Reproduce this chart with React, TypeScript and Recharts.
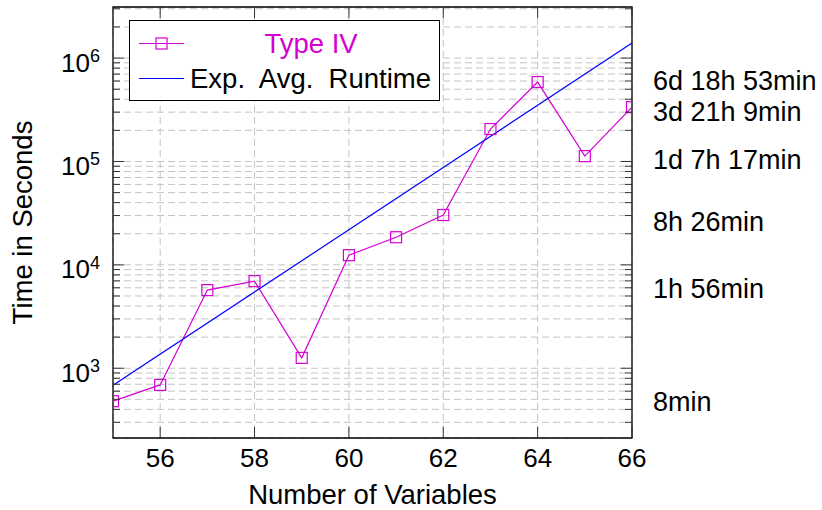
import React from 'react'
import { LineChart, Line, XAxis, YAxis, CartesianGrid, Legend, ReferenceArea } from 'recharts'

// number of variables on the x axis
const variables = [55, 56, 57, 58, 59, 60, 61, 62, 63, 64, 65, 66]
// measured runtime (seconds) for Type IV instances
const typeIvSeconds = [480, 690, 5700, 6960, 1260, 12400, 18500, 30360, 206000, 586380, 112620, 335340]
// expected average runtime, straight line in log space
const expAvgVariables = [55, 66]
const expAvgSeconds = [684, 1400000]

const xTicks = [56, 58, 60, 62, 64, 66]
const decades = [100, 1000, 10000, 100000, 1000000]
const minorSteps = [1, 2, 3, 4, 5, 6, 7, 8, 9]

// human readable runtimes on the right side
const rightTickValues = [479, 5930, 26400, 105000, 307000, 612000]
const rightTickLabels = ['8min', '1h 56min', '8h 26min', '1d 7h 17min', '3d 21h 9min', '6d 18h 53min']

const Y_MIN = 211.5
const Y_MAX = 3120000
const yTicks = decades
  .flatMap((d) => minorSteps.map((m) => d * m))
  .filter((v) => v >= Y_MIN && v <= Y_MAX)

const typeIvData = variables.map((x, i) => ({ x, y: typeIvSeconds[i] }))
const expAvgData = expAvgVariables.map((x, i) => ({ x, y: expAvgSeconds[i] }))

const FONT = '"Liberation Sans", Arial, sans-serif'
const FS = 26 // numbers
const FS_TEXT = 27.5 // words
const MAGENTA = '#d400d4'
const BLUE = '#0000ff'
const TICK = '#333'

// plot box
const PLOT_W = 519
const PLOT_H = 431

const isDecade = (v: number) => {
  const l = Math.log10(v)
  return Math.abs(l - Math.round(l)) < 1e-9
}

const LeftTick = (props: any) => {
  const { x, y, payload } = props
  const v = payload.value
  const axisX = x + 13
  const major = isDecade(v)
  const len = major ? 11 : 7
  return (
    <g>
      <line x1={axisX} x2={axisX + len} y1={y} y2={y} stroke={TICK} strokeWidth={1} />
      <line x1={axisX + PLOT_W} x2={axisX + PLOT_W - len} y1={y} y2={y} stroke={TICK} strokeWidth={1} />
      {major && (
        <text x={x} y={y + 13.5} textAnchor="end" fill="#000" fontFamily={FONT} fontSize={FS}>
          <tspan>10</tspan>
          <tspan dy={-9.5} fontSize={18}>{Math.round(Math.log10(v))}</tspan>
        </text>
      )}
    </g>
  )
}

const RightTick = (props: any) => {
  const { x, y, payload } = props
  const idx = rightTickValues.indexOf(payload.value)
  return (
    <text x={x} y={y} dy="0.36em" textAnchor="start" fill="#000" fontFamily={FONT} fontSize={27}>
      {rightTickLabels[idx]}
    </text>
  )
}

const BottomTick = (props: any) => {
  const { x, y, payload } = props
  const axisY = y - 29
  return (
    <g>
      <line x1={x} x2={x} y1={axisY} y2={axisY - 11} stroke={TICK} strokeWidth={1} />
      <line x1={x} x2={x} y1={axisY - PLOT_H} y2={axisY - PLOT_H + 11} stroke={TICK} strokeWidth={1} />
      <text x={x} y={y} textAnchor="middle" fill="#000" fontFamily={FONT} fontSize={FS}>
        {payload.value}
      </text>
    </g>
  )
}

const SquareDot = (props: any) => {
  const { cx, cy } = props
  if (cx == null || cy == null) return null
  return <rect x={cx - 5.5} y={cy - 5.5} width={11} height={11} fill="none" stroke={MAGENTA} strokeWidth={1.2} />
}

const LegendBox = () => (
  <div
    style={{
      width: 311,
      height: 81,
      boxSizing: 'border-box',
      border: '1.3px solid #000',
      background: '#fff',
      fontFamily: FONT,
      fontSize: FS_TEXT,
      position: 'relative',
    }}
  >
    <svg width={60} height={81} style={{ position: 'absolute', left: 0, top: 0 }}>
      <line x1={9} x2={54} y1={22.5} y2={22.5} stroke={MAGENTA} strokeWidth={1.2} />
      <rect x={26} y={17} width={11} height={11} fill="none" stroke={MAGENTA} strokeWidth={1.2} />
      <line x1={9} x2={54} y1={57.5} y2={57.5} stroke={BLUE} strokeWidth={1.2} />
    </svg>
    <div style={{ position: 'absolute', left: 61, width: 240, top: 22.5, transform: 'translateY(-50%)', textAlign: 'center', color: MAGENTA, lineHeight: 1 }}>
      Type IV
    </div>
    <div style={{ position: 'absolute', left: 60, width: 250, top: 57.5, transform: 'translateY(-50%)', textAlign: 'left', color: '#000', lineHeight: 1, whiteSpace: 'nowrap' }}>
      Exp.&nbsp; Avg.&nbsp; Runtime
    </div>
  </div>
)

const YTitle = (props: any) => {
  const { viewBox } = props
  const cx = 22
  const cy = viewBox.y + viewBox.height / 2
  return (
    <text x={cx} y={cy} transform={`rotate(-90 ${cx} ${cy})`} textAnchor="middle" dy="0.36em" fontFamily={FONT} fontSize={FS_TEXT} fill="#000">
      Time in Seconds
    </text>
  )
}

const XTitle = (props: any) => {
  const { viewBox } = props
  const cx = viewBox.x + viewBox.width / 2
  return (
    <text x={cx} y={503.5} textAnchor="middle" fontFamily={FONT} fontSize={FS_TEXT} fill="#000">
      Number of Variables
    </text>
  )
}

export default function App() {
  return (
    <div style={{ position: 'absolute', left: 0, top: 0, width: 822, height: 510, background: '#fff', fontFamily: FONT }}>
      <LineChart width={822} height={510} margin={{ top: 7, right: 40, bottom: 42, left: 53 }}>
        <CartesianGrid stroke="#c4c4c4" strokeDasharray="7 4" strokeWidth={1} />
        <XAxis
          dataKey="x"
          type="number"
          domain={[55, 66]}
          allowDataOverflow
          ticks={xTicks}
          interval={0}
          height={30}
          tickSize={0}
          tickMargin={29}
          tickLine={false}
          axisLine={false}
          tick={(p: any) => <BottomTick {...p} />}
          label={(p: any) => <XTitle {...p} />}
        />
        <YAxis
          type="number"
          scale="log"
          domain={[Y_MIN, Y_MAX]}
          allowDataOverflow
          ticks={yTicks}
          interval={0}
          width={60}
          tickSize={0}
          tickMargin={13}
          tickLine={false}
          axisLine={false}
          tick={(p: any) => <LeftTick {...p} />}
          label={(p: any) => <YTitle {...p} />}
        />
        <YAxis
          yAxisId="r"
          orientation="right"
          type="number"
          scale="log"
          domain={[Y_MIN, Y_MAX]}
          allowDataOverflow
          ticks={rightTickValues}
          interval={0}
          width={150}
          tickSize={0}
          tickMargin={21}
          tickLine={false}
          axisLine={false}
          tick={(p: any) => <RightTick {...p} />}
        />
        <ReferenceArea x1={55} x2={66} y1={Y_MIN} y2={Y_MAX} fill="none" stroke="#000" strokeWidth={1.3} ifOverflow="visible" />
        <Line
          data={typeIvData}
          dataKey="y"
          name="Type IV"
          stroke={MAGENTA}
          strokeWidth={1.2}
          dot={(p: any) => <SquareDot key={p.index} {...p} />}
          isAnimationActive={false}
        />
        <Line
          data={expAvgData}
          dataKey="y"
          name="Exp. Avg. Runtime"
          stroke={BLUE}
          strokeWidth={1.2}
          dot={false}
          isAnimationActive={false}
        />
        <Legend
          layout="vertical"
          align="center"
          verticalAlign="middle"
          wrapperStyle={{ position: 'absolute', left: 129, top: 20, width: 311, height: 81 }}
          content={() => <LegendBox />}
        />
      </LineChart>
    </div>
  )
}
